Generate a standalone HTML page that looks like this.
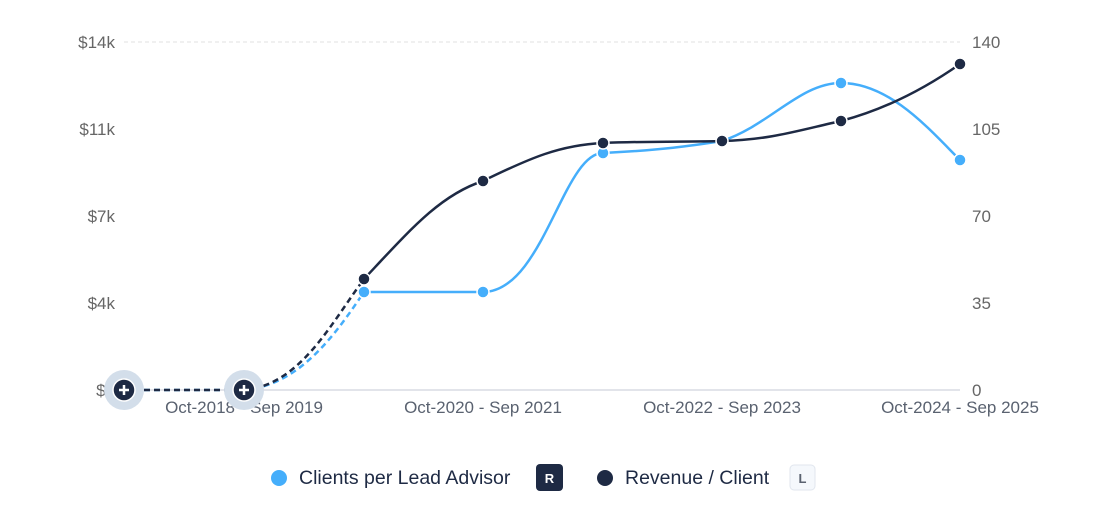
<!DOCTYPE html>
<html><head><style>
body{margin:0;background:#fff;width:1100px;height:511px;overflow:hidden;font-family:"Liberation Sans",sans-serif}
</style></head><body>
<svg width="1100" height="511" xmlns="http://www.w3.org/2000/svg" font-family="Liberation Sans, sans-serif">
<line x1="124" y1="42" x2="960" y2="42" stroke="#e2e2e2" stroke-dasharray="4,3"/>
<line x1="124" y1="390" x2="960" y2="390" stroke="#d8dce3" stroke-width="1.5"/>
<g fill="#666" font-size="17" text-anchor="end">
<text x="115" y="48">$14k</text><text x="115" y="135">$11k</text><text x="115" y="222">$7k</text><text x="115" y="309">$4k</text><text x="115" y="396">$0</text>
</g>
<g fill="#666" font-size="17" text-anchor="start">
<text x="972" y="48">140</text><text x="972" y="135">105</text><text x="972" y="222">70</text><text x="972" y="309">35</text><text x="972" y="396">0</text>
</g>
<g fill="#5a6270" font-size="17" text-anchor="middle">
<text x="244" y="413">Oct-2018 - Sep 2019</text><text x="483" y="413">Oct-2020 - Sep 2021</text><text x="722" y="413">Oct-2022 - Sep 2023</text><text x="960" y="413">Oct-2024 - Sep 2025</text>
</g>
<path d="M124,390 L244,390 C300,385 335,335 364,292" fill="none" stroke="#45aefb" stroke-width="2.5" stroke-dasharray="6,4"/>
<path d="M124,390 L244,390 C300,385 330,325 364,279" fill="none" stroke="#1e2a44" stroke-width="2.5" stroke-dasharray="6,4"/>
<path d="M364,292 L483,292 C543,292 563,153 603,153 C663,150 690,146 722,141 C770,125 800,83 841,83 C890,83 930,130 960,160" fill="none" stroke="#45aefb" stroke-width="2.5"/>
<path d="M364,279 C410,230 440,195 483,181 C530,158 560,145 603,143 C650,141 690,142 722,141 C770,140 800,130 841,121 C890,108 930,85 960,64" fill="none" stroke="#1e2a44" stroke-width="2.5"/>
<g fill="#45aefb" stroke="#fff" stroke-width="1.5">
<circle cx="364" cy="292" r="6"/><circle cx="483" cy="292" r="6"/><circle cx="603" cy="153" r="6"/><circle cx="841" cy="83" r="6"/><circle cx="960" cy="160" r="6"/>
</g>
<g fill="#1e2a44" stroke="#fff" stroke-width="1.5">
<circle cx="364" cy="279" r="6"/><circle cx="483" cy="181" r="6"/><circle cx="603" cy="143" r="6"/><circle cx="722" cy="141" r="6"/><circle cx="841" cy="121" r="6"/><circle cx="960" cy="64" r="6"/>
</g>
<g>
<circle cx="124" cy="390" r="20" fill="#d3deea"/><circle cx="124" cy="390" r="11" fill="#1e2a44" stroke="#fff" stroke-width="1.5"/>
<path d="M119,390h10M124,385v10" stroke="#fff" stroke-width="2.5"/>
<circle cx="244" cy="390" r="20" fill="#d3deea"/><circle cx="244" cy="390" r="11" fill="#1e2a44" stroke="#fff" stroke-width="1.5"/>
<path d="M239,390h10M244,385v10" stroke="#fff" stroke-width="2.5"/>
</g>
<circle cx="279" cy="478" r="8" fill="#45aefb"/>
<text x="299" y="484" font-size="19.5" fill="#1e2a44">Clients per Lead Advisor</text>
<rect x="536" y="464" width="27" height="27" rx="4" fill="#1e2a44"/>
<text x="549.5" y="483" font-size="13" font-weight="bold" fill="#fff" text-anchor="middle">R</text>
<circle cx="605" cy="478" r="8" fill="#1e2a44"/>
<text x="625" y="484" font-size="19.5" fill="#1e2a44">Revenue / Client</text>
<rect x="790" y="465" width="25" height="25" rx="4" fill="#f5f8fc" stroke="#e1e6ee"/>
<text x="802.5" y="483" font-size="13" font-weight="bold" fill="#5a6270" text-anchor="middle">L</text>
</svg>
</body></html>
